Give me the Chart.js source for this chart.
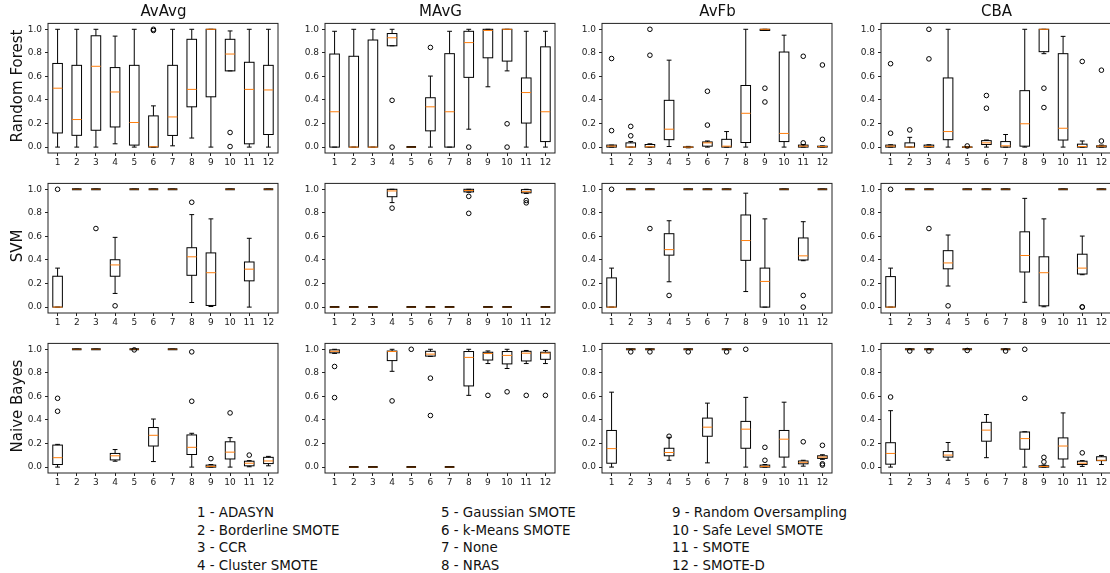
<!DOCTYPE html>
<html lang="en">
<head>
  <meta charset="UTF-8">
  <title>Boxplots per classifier and metric</title>
  <script src="https://cdn.jsdelivr.net/npm/chart.js"></script>
  <style>
    body { margin: 0; background: #fff; }
    #fig { position: relative; width: 1110px; height: 573px; overflow: hidden; font-family: "DejaVu Sans", sans-serif; color: #111; }
    #fig canvas { position: absolute; }
    .title { position: absolute; font-size: 15px; transform: translate(-50%, -50%); white-space: nowrap; }
    .rowlabel { position: absolute; font-size: 15px; transform: translate(-50%, -50%) rotate(-90deg); white-space: nowrap; }
    .legend { position: absolute; font-size: 13.4px; line-height: 17.5px; white-space: nowrap; }
  </style>
</head>
<body>
  <div id="fig"></div>

  <script>
    // methods on the x axis (1..12)
    const methods = ['ADASYN', 'Borderline SMOTE', 'CCR', 'Cluster SMOTE', 'Gaussian SMOTE', 'k-Means SMOTE',
                     'None', 'NRAS', 'Random Oversampling', 'Safe Level SMOTE', 'SMOTE', 'SMOTE-D'];
    const metrics = ['AvAvg', 'MAvG', 'AvFb', 'CBA'];
    const classifiers = ['Random Forest', 'SVM', 'Naive Bayes'];
    const xTicks = [1, 2, 3, 4, 5, 6, 7, 8, 9, 10, 11, 12];
    const yTicks = [0, 0.2, 0.4, 0.6, 0.8, 1.0];

    // box stats per method: [low whisker, q1, median, q3, high whisker]
    const ONE = [1, 1, 1, 1, 1];
    const ZERO = [0, 0, 0, 0, 0];

    // --- Random Forest ---
    const rfAvAvg = [[0,0.12,0.50,0.71,1.0],[0,0.10,0.234,0.694,1.0],[0,0.143,0.686,0.945,1.0],[0.028,0.171,0.468,0.675,0.942],
      [0,0.017,0.209,0.694,1.0],[0,0,0.003,0.265,0.35],[0.011,0.099,0.256,0.694,1.0],[0.077,0.342,0.49,0.915,1.0],
      [0,0.427,1.0,1.0,1.0],[0.647,0.647,0.79,0.915,0.986],[0,0.028,0.49,0.72,1.0],[0,0.107,0.485,0.694,1.0]];
    const rfAvAvgOut = [[],[],[],[],[],[1.0,0.99],[],[],[],[0.124,0.005],[],[]];

    const rfMAvG = [[0,0,0.30,0.79,0.983],[0,0,0,0.771,1.0],[0,0,0,0.909,1.0],[0.86,0.86,0.928,0.964,1.0],
      ZERO,[0,0.138,0.342,0.419,0.603],[0,0,0.30,0.793,0.983],[0.152,0.592,0.887,0.983,1.0],
      [0.512,0.758,0.99,1.0,1.0],[0.647,0.73,1.0,1.0,1.0],[0,0.204,0.463,0.587,0.983],[0,0.047,0.30,0.851,0.983]];
    const rfMAvGOut = [[],[],[],[0.397,0],[],[0.846],[],[0],[],[0.198,0],[],[]];

    const rfAvFb = [[0,0,0.008,0.017,0.017],[0,0,0,0.036,0.047],[0,0,0.003,0.022,0.028],[0.005,0.063,0.152,0.397,0.738],
      [-0.006,-0.002,0,0.002,0.006],[0,0.008,0.036,0.044,0.052],[0,0,0.008,0.066,0.132],[0,0.039,0.287,0.523,1.0],
      [0.99,0.99,1.0,1.0,1.0],[0,0.047,0.116,0.807,0.95],[0,0,0.008,0.017,0.022],[0,0,0.004,0.008,0.01]];
    const rfAvFbOut = [[0.752,0.14],[0.176,0.096],[1.0,0.78],[],[],[0.474,0.187],[],[],[0.5,0.383],[],[0.771,0.036],[0.697,0.066]];

    const rfCBA = [[0,0,0.008,0.017,0.02],[0,0,0,0.036,0.083],[0,0,0.005,0.017,0.02],[0,0.063,0.132,0.587,1.0],
      [-0.005,-0.002,0,0.002,0.004],[0,0.022,0.036,0.055,0.06],[0,0,0.011,0.047,0.107],[0,0.008,0.198,0.479,1.0],
      [0.793,0.81,1.0,1.0,1.0],[0,0.06,0.16,0.793,0.94],[0,0,0.005,0.025,0.052],[0,0,0.008,0.011,0.017]];
    const rfCBAOut = [[0.708,0.118],[0.146],[1.0,0.749],[],[0.01],[0.438,0.33],[],[],[0.5,0.336],[],[0.727],[0.653,0.052]];

    // --- SVM ---
    const svmAvAvg = [[0,0,0,0.262,0.331],ONE,ONE,[0.116,0.262,0.358,0.402,0.592],ONE,ONE,ONE,
      [0.039,0.27,0.427,0.504,0.785],[0.005,0.014,0.292,0.46,0.749],ONE,[0,0.223,0.322,0.383,0.584],ONE];
    const svmAvAvgOut = [[1.0],[],[0.667],[0.011],[],[],[],[0.89],[],[],[],[]];

    const svmMAvG = [ZERO,ZERO,ZERO,[0.887,0.937,0.986,1.0,1.0],ZERO,ZERO,ZERO,
      [0.975,0.978,0.99,1.0,1.0],ZERO,ZERO,[0.965,0.97,0.98,0.997,1.0],ZERO];
    const svmMAvGOut = [[],[],[],[0.84],[],[],[],[0.94,0.796],[],[],[0.905,0.885],[]];

    const svmAvFb = [[0,0,0,0.248,0.331],ONE,ONE,[0.215,0.441,0.488,0.623,0.733],ONE,ONE,ONE,
      [0.132,0.397,0.565,0.782,0.967],[0,0,0.218,0.331,0.749],ONE,[0.394,0.4,0.435,0.587,0.725],ONE];
    const svmAvFbOut = [[1.0],[],[0.667],[0.099],[],[],[],[],[],[],[0.099,0],[]];

    const svmCBA = [[0,0,0,0.259,0.331],ONE,ONE,[0.179,0.325,0.375,0.479,0.612],ONE,ONE,ONE,
      [0.041,0.298,0.438,0.639,0.923],[0.003,0.011,0.292,0.427,0.749],ONE,[0.275,0.281,0.331,0.449,0.603],ONE];
    const svmCBAOut = [[1.0],[],[0.667],[0.011],[],[],[],[],[],[],[0,0.002],[]];

    // --- Naive Bayes ---
    const nbAvAvg = [[0,0.022,0.08,0.187,0.193],ONE,ONE,[0.05,0.061,0.096,0.116,0.149],ONE,[0.047,0.179,0.27,0.336,0.408],ONE,
      [0,0.107,0.168,0.273,0.287],[0,0,0.006,0.017,0.022],[0,0.069,0.127,0.215,0.25],[0.003,0.011,0.033,0.05,0.055],[0.011,0.03,0.052,0.083,0.091]];
    const nbAvAvgOut = [[0.584,0.474],[],[],[],[0.995],[],[],[0.978,0.559],[0.072],[0.46],[0.102],[]];

    const nbMAvG = [[0.965,0.97,0.983,0.995,1.0],ZERO,ZERO,[0.813,0.904,0.981,0.985,1.0],ZERO,[0.94,0.942,0.959,0.983,1.0],ZERO,
      [0.609,0.689,0.931,0.981,1.0],[0.879,0.909,0.964,0.975,0.986],[0.837,0.876,0.948,0.981,1.0],[0.879,0.901,0.967,0.983,0.99],[0.879,0.915,0.967,0.975,0.99]];
    const nbMAvGOut = [[0.854,0.59],[],[],[0.562],[1.0],[0.755,0.438],[],[],[0.609],[0.639],[0.609],[0.609]];

    const nbAvFb = [[0,0.033,0.157,0.311,0.636],ONE,ONE,[0.058,0.096,0.124,0.16,0.253],ONE,[0.036,0.262,0.339,0.416,0.543],ONE,
      [0,0.16,0.322,0.388,0.592],[0,0,0.006,0.017,0.022],[0,0.085,0.237,0.311,0.551],[0.008,0.028,0.041,0.052,0.058],[0.066,0.074,0.085,0.096,0.105]];
    const nbAvFbOut = [[],[0.978],[0.978],[0.262],[0.978],[],[0.978],[1.0],[0.168,0.058],[],[0.215],[0.185,0.028,0.017]];

    const nbCBA = [[0,0.025,0.116,0.207,0.479],ONE,ONE,[0.058,0.085,0.102,0.132,0.209],ONE,[0.08,0.22,0.314,0.38,0.446],ONE,
      [0,0.152,0.242,0.298,0.3],[0,0,0.005,0.011,0.017],[0,0.069,0.179,0.248,0.46],[0.006,0.022,0.033,0.05,0.055],[0.022,0.055,0.058,0.088,0.099]];
    const nbCBAOut = [[0.595],[0.985],[0.985],[],[0.99],[],[0.985],[1.0,0.584],[0.083,0.044],[],[0.121],[]];

    const panels = [
      [[rfAvAvg, rfAvAvgOut], [rfMAvG, rfMAvGOut], [rfAvFb, rfAvFbOut], [rfCBA, rfCBAOut]],
      [[svmAvAvg, svmAvAvgOut], [svmMAvG, svmMAvGOut], [svmAvFb, svmAvFbOut], [svmCBA, svmCBAOut]],
      [[nbAvAvg, nbAvAvgOut], [nbMAvG, nbMAvGOut], [nbAvFb, nbAvFbOut], [nbCBA, nbCBAOut]]
    ];

    // layout of the axes boxes in the figure
    const colLeft = [48, 325, 602, 881];
    const rowTop = [19, 179, 339];
    const axW = 231, axH = 134;
    const yAxisW = 40, xAxisH = 20, padTop = 4, padRight = 4;

    const tickFont = { family: 'DejaVu Sans', size: 9 };

    // matplotlib-like box drawing using the chart scales
    const boxPlugin = {
      id: 'boxplot',
      beforeDatasetsDraw(chart, args, opts) {
        const ctx = chart.ctx, xs = chart.scales.x, ys = chart.scales.y;
        ctx.save();
        opts.stats.forEach((s, i) => {
          const x = xs.getPixelForValue(i + 1);
          const hw = xs.getPixelForValue(i + 1.25) - x;
          const cw = hw / 2;
          const [lo, q1, med, q3, hi] = s.map(v => ys.getPixelForValue(v));
          const flat = s[1] === s[3];
          ctx.strokeStyle = '#000';
          ctx.lineWidth = 1;
          ctx.beginPath();
          ctx.moveTo(x, q1); ctx.lineTo(x, lo);
          ctx.moveTo(x, q3); ctx.lineTo(x, hi);
          ctx.moveTo(x - cw, lo); ctx.lineTo(x + cw, lo);
          ctx.moveTo(x - cw, hi); ctx.lineTo(x + cw, hi);
          ctx.stroke();
          // a box with no spread shows up as a dark brown bar (black and orange on top of each other)
          ctx.lineWidth = flat ? 2 : 1;
          ctx.strokeRect(x - hw, q3, 2 * hw, q1 - q3);
          ctx.strokeStyle = '#ff7f0e';
          ctx.globalAlpha = flat ? 0.55 : 1;
          ctx.lineWidth = 1;
          ctx.beginPath();
          ctx.moveTo(x - hw, med); ctx.lineTo(x + hw, med);
          ctx.stroke();
          ctx.globalAlpha = 1;
        });
        ctx.restore();
      },
      afterDraw(chart) {
        const a = chart.chartArea, ctx = chart.ctx;
        ctx.save();
        ctx.strokeStyle = '#222';
        ctx.lineWidth = 1;
        ctx.strokeRect(a.left, a.top, a.right - a.left, a.bottom - a.top);
        ctx.restore();
      }
    };

    const fig = document.getElementById('fig');

    panels.forEach((row, r) => {
      row.forEach(([stats, outs], c) => {
        const canvas = document.createElement('canvas');
        canvas.width = yAxisW + axW + padRight;
        canvas.height = padTop + axH + xAxisH;
        canvas.style.left = (colLeft[c] - yAxisW) + 'px';
        canvas.style.top = (rowTop[r] - padTop) + 'px';
        fig.appendChild(canvas);

        const fliers = [];
        outs.forEach((list, i) => list.forEach(v => fliers.push({ x: i + 1, y: v })));

        new Chart(canvas, {
          type: 'scatter',
          data: {
            datasets: [{
              data: fliers,
              pointStyle: 'circle',
              pointRadius: 2.3,
              borderColor: '#000',
              backgroundColor: 'rgba(0,0,0,0)',
              borderWidth: 1
            }]
          },
          options: {
            responsive: false,
            animation: false,
            layout: { padding: { top: padTop, right: padRight, left: 0, bottom: 0 } },
            plugins: {
              legend: { display: false },
              tooltip: { enabled: false },
              boxplot: { stats: stats }
            },
            scales: {
              x: {
                type: 'linear', min: 0.5, max: 12.5,
                afterBuildTicks: s => { s.ticks = xTicks.map(v => ({ value: v })); },
                afterFit: s => { s.height = xAxisH; },
                grid: { drawOnChartArea: false, tickLength: 3, color: '#222' },
                border: { display: false },
                ticks: { font: tickFont, color: '#222', padding: 1, maxRotation: 0, autoSkip: false,
                         callback: v => String(v) }
              },
              y: {
                min: -0.05, max: 1.05,
                afterBuildTicks: s => { s.ticks = yTicks.map(v => ({ value: v })); },
                afterFit: s => { s.width = yAxisW; },
                grid: { drawOnChartArea: false, tickLength: 3, color: '#222' },
                border: { display: false },
                ticks: { font: tickFont, color: '#222', padding: 3, callback: v => v.toFixed(1) }
              }
            }
          },
          plugins: [boxPlugin]
        });
      });
    });

    // column titles
    metrics.forEach((m, c) => {
      const d = document.createElement('div');
      d.className = 'title';
      d.textContent = m;
      d.style.left = (colLeft[c] + axW / 2) + 'px';
      d.style.top = '11px';
      fig.appendChild(d);
    });

    // row labels
    classifiers.forEach((name, r) => {
      const d = document.createElement('div');
      d.className = 'rowlabel';
      d.textContent = name;
      d.style.left = '17px';
      d.style.top = (rowTop[r] + axH / 2) + 'px';
      fig.appendChild(d);
    });

    // method key below the grid, three columns of four
    const legendX = [197, 441, 672];
    legendX.forEach((lx, k) => {
      const d = document.createElement('div');
      d.className = 'legend';
      d.style.left = lx + 'px';
      d.style.top = '504px';
      d.innerHTML = methods.slice(k * 4, k * 4 + 4).map((m, j) => (k * 4 + j + 1) + ' - ' + m).join('<br>');
      fig.appendChild(d);
    });
  </script>
</body>
</html>
